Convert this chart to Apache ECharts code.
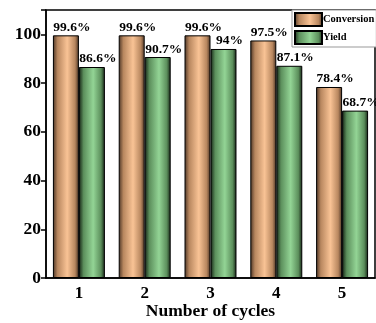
<!DOCTYPE html>
<html><head><meta charset="utf-8">
<script src="https://cdn.jsdelivr.net/npm/echarts@6/dist/echarts.min.js"></script>
<style>html,body{margin:0;padding:0;background:#fff}#c{width:376px;height:323px}</style>
</head><body><div id="c"></div>
<script>
var categories = ['1','2','3','4','5'];
var conversion = [99.6, 99.6, 99.6, 97.5, 78.4];
var yieldVals = [86.6, 90.7, 94, 87.1, 68.7];
var yTicks = [0, 20, 40, 60, 80, 100];

function grad(dark, mid, light) {
  return new echarts.graphic.LinearGradient(0, 0, 1, 0, [
    {offset: 0, color: dark},
    {offset: 0.18, color: mid},
    {offset: 0.55, color: light},
    {offset: 0.85, color: mid},
    {offset: 1, color: dark}
  ]);
}
var convColor = grad('#4a3324', '#b8875f', '#f9c395');
var yieldColor = grad('#142214', '#5c8f5c', '#93d495');
var font = '"Liberation Serif", "Times New Roman", serif';

var chart = echarts.init(document.getElementById('c'));
chart.setOption({
  animation: false,
  grid: {left: 46, right: 1, top: 10, bottom: 45, outerBoundsMode: 'none', containLabel: false,
    show: true, borderColor: '#000', borderWidth: 1.5, backgroundColor: 'transparent'},
  legend: {
    data: ['Conversion', 'Yield'],
    orient: 'vertical', left: 292, top: 10,
    icon: 'rect',
    itemWidth: 27, itemHeight: 13, itemGap: 3,
    padding: [2, 2, 2, 2],
    borderColor: '#999', borderWidth: 1, backgroundColor: '#fff',
    textStyle: {fontFamily: font, fontWeight: 'bold', fontSize: 10.5, color: '#000', padding: [0, 0, 0, -4]}
  },
  xAxis: {
    type: 'category', data: categories,
    name: 'Number of cycles', nameLocation: 'middle', nameGap: 24, nameMoveOverlap: false,
    nameTextStyle: {fontFamily: font, fontWeight: 'bold', fontSize: 17.5, color: '#000'},
    axisLine: {lineStyle: {color: '#000', width: 1.5}},
    axisTick: {alignWithLabel: true, length: 5, lineStyle: {color: '#000', width: 1.5}},
    axisLabel: {fontFamily: font, fontWeight: 'bold', fontSize: 17, color: '#000', margin: 7}
  },
  yAxis: {
    type: 'value', min: 0, max: 110, interval: 20,
    axisLine: {show: true, lineStyle: {color: '#000', width: 1.5}},
    axisTick: {show: true, length: 5, lineStyle: {color: '#000', width: 1.5}},
    splitLine: {show: false},
    axisLabel: {fontFamily: font, fontWeight: 'bold', fontSize: 17.5, color: '#000', margin: 5,
      formatter: function (v) { return yTicks.indexOf(v) >= 0 ? v : ''; }}
  },
  series: [
    {name: 'Conversion', type: 'bar', data: conversion, barGap: '0%', barCategoryGap: '21%',
     itemStyle: {color: convColor, borderColor: '#000', borderWidth: 1},
     label: {show: true, position: 'top', distance: 1, offset: [6, 0], formatter: function (p) { return p.value + '%'; },
       fontFamily: font, fontWeight: 'bold', fontSize: 13.5, color: '#000'}},
    {name: 'Yield', type: 'bar', data: yieldVals,
     itemStyle: {color: yieldColor, borderColor: '#000', borderWidth: 1},
     label: {show: true, position: 'top', distance: 1, offset: [6, 0], formatter: function (p) { return p.value + '%'; },
       fontFamily: font, fontWeight: 'bold', fontSize: 13.5, color: '#000'}}
  ]
});
</script></body></html>
